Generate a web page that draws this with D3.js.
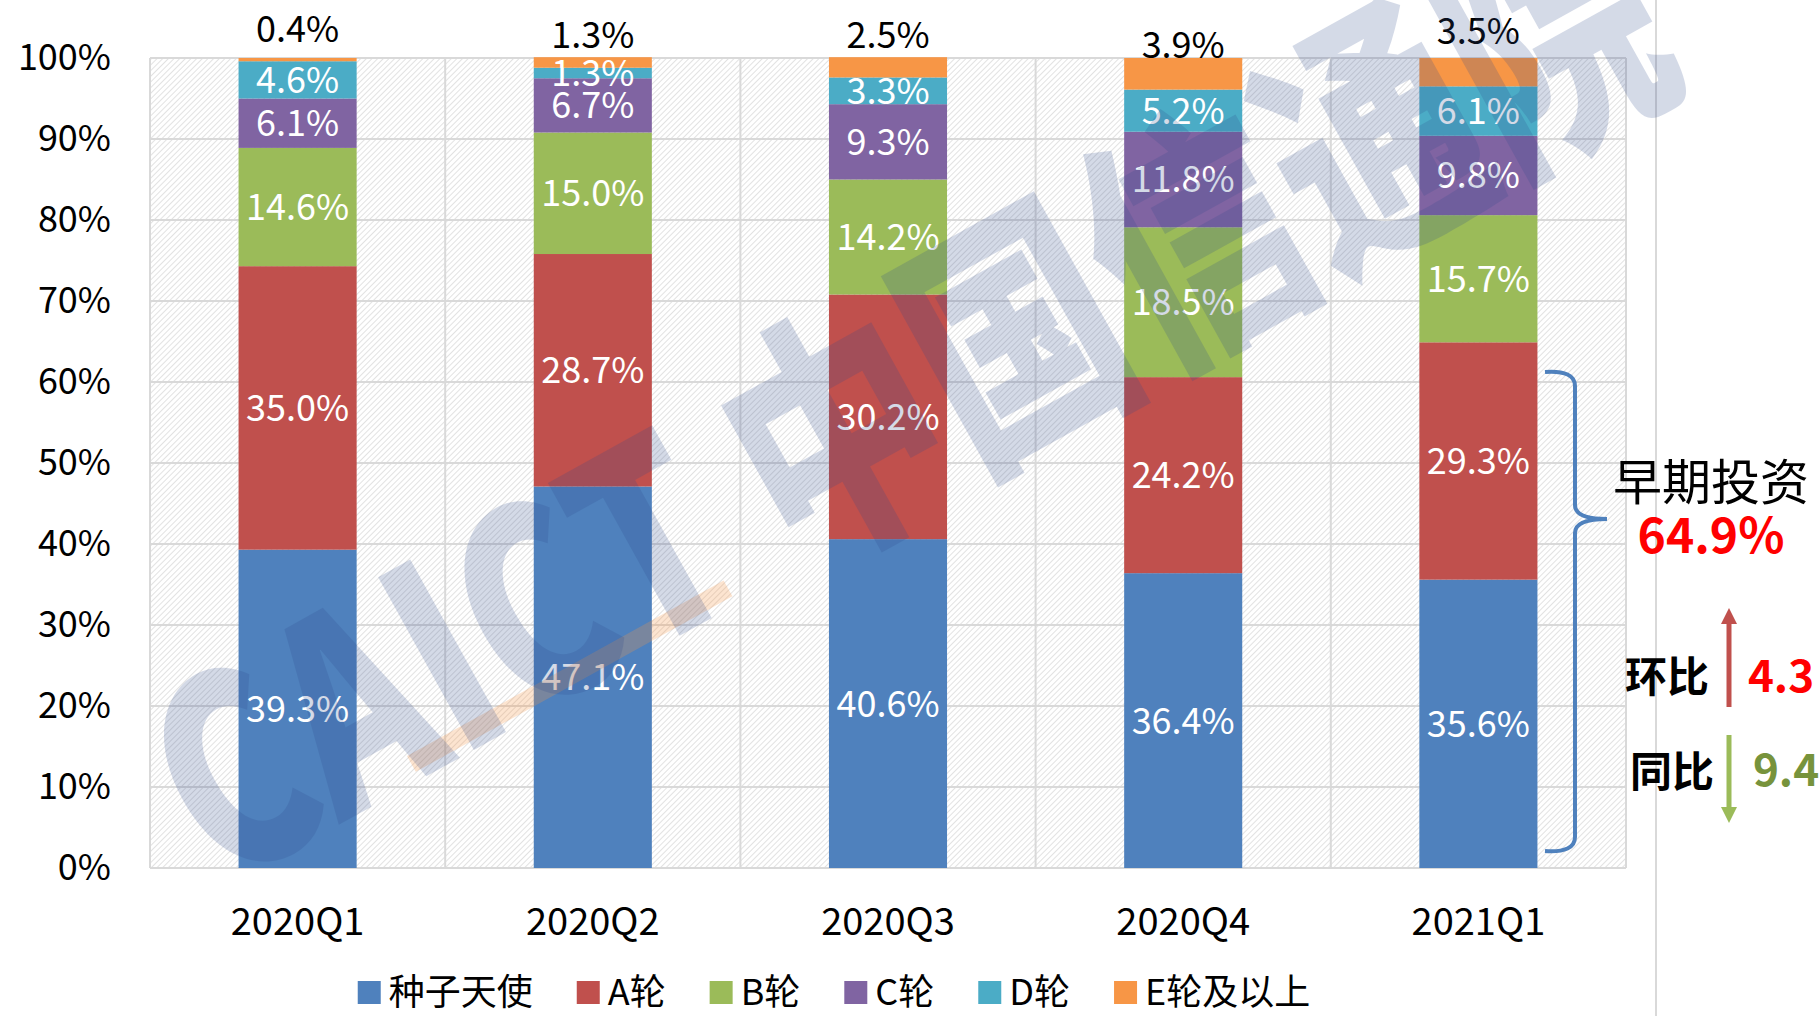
<!DOCTYPE html>
<html>
<head>
<meta charset="utf-8">
<script src="https://cdn.jsdelivr.net/npm/d3@7"></script>
<style>
  html, body { margin: 0; padding: 0; background: #fff; }
  svg { display: block; font-family: "Noto Sans CJK SC", "Noto Sans", sans-serif; }
</style>
</head>
<body>
<div id="chart"></div>
<script>
// Chart data
const quarters = ["2020Q1", "2020Q2", "2020Q3", "2020Q4", "2021Q1"];
const seriesNames = ["种子天使", "A轮", "B轮", "C轮", "D轮", "E轮及以上"];
const seed = [39.3, 47.1, 40.6, 36.4, 35.6];
const roundA = [35.0, 28.7, 30.2, 24.2, 29.3];
const roundB = [14.6, 15.0, 14.2, 18.5, 15.7];
const roundC = [6.1, 6.7, 9.3, 11.8, 9.8];
const roundD = [4.6, 1.3, 3.3, 5.2, 6.1];
const roundE = [0.4, 1.3, 2.5, 3.9, 3.5];
const yTicks = [0, 10, 20, 30, 40, 50, 60, 70, 80, 90, 100];

const earlyTotal = "64.9%";
const qoqChange = "4.3";
const yoyChange = "9.4";

const colors = ["#4f81bd", "#c0504d", "#9bbb59", "#8064a2", "#4bacc6", "#f79646"];

const W = 1820, H = 1016;
const plot = { left: 150, right: 1626, top: 58, bottom: 868 };

const svg = d3.select("#chart").append("svg")
  .attr("width", W).attr("height", H);

// hatch pattern for the plot background
const defs = svg.append("defs");
const pat = defs.append("pattern")
  .attr("id", "hatch")
  .attr("patternUnits", "userSpaceOnUse")
  .attr("width", 4).attr("height", 4)
  .attr("patternTransform", "rotate(45)");
pat.append("rect").attr("width", 4).attr("height", 4).attr("fill", "#fff");
pat.append("line")
  .attr("x1", 0).attr("y1", 0).attr("x2", 0).attr("y2", 4)
  .attr("stroke", "#cfcfcf").attr("stroke-width", 1.2);

// scales
const x = d3.scaleBand()
  .domain(quarters)
  .range([plot.left, plot.right])
  .paddingInner(0.6)
  .paddingOuter(0.3);

const y = d3.scaleLinear()
  .domain([0, 100])
  .range([plot.bottom, plot.top]);

// background
svg.append("rect")
  .attr("x", plot.left).attr("y", plot.top)
  .attr("width", plot.right - plot.left)
  .attr("height", plot.bottom - plot.top)
  .attr("fill", "url(#hatch)");

// horizontal gridlines
svg.append("g")
  .selectAll("line")
  .data(yTicks)
  .join("line")
  .attr("x1", plot.left).attr("x2", plot.right)
  .attr("y1", (d) => y(d)).attr("y2", (d) => y(d))
  .attr("stroke", "#d9d9d9").attr("stroke-width", 2);

// vertical gridlines at category boundaries
const step = x.step();
const bounds = d3.range(quarters.length + 1).map((i) => plot.left + i * step);
svg.append("g")
  .selectAll("line")
  .data(bounds)
  .join("line")
  .attr("x1", (d) => d).attr("x2", (d) => d)
  .attr("y1", plot.top).attr("y2", plot.bottom)
  .attr("stroke", "#d9d9d9").attr("stroke-width", 2);

// outer frame line on the right
svg.append("line")
  .attr("x1", 1656).attr("x2", 1656)
  .attr("y1", 0).attr("y2", H)
  .attr("stroke", "#d9d9d9").attr("stroke-width", 2);

// y axis
const yAxis = svg.append("g")
  .attr("transform", `translate(${plot.left},0)`)
  .call(d3.axisLeft(y).tickValues(yTicks).tickSize(0).tickPadding(39).tickFormat((d) => d + "%"));
yAxis.select(".domain").remove();
yAxis.selectAll("text")
  .style("font-size", "36px")
  .style("font-family", "'Noto Sans CJK SC', sans-serif")
  .attr("fill", "#000");

// x axis
const xAxis = svg.append("g")
  .attr("transform", `translate(0,${plot.bottom})`)
  .call(d3.axisBottom(x).tickSize(0).tickPadding(40));
xAxis.select(".domain").remove();
xAxis.selectAll("text")
  .style("font-size", "38px")
  .style("font-family", "'Noto Sans CJK SC', sans-serif")
  .attr("fill", "#000");

// stacked bars
const rows = quarters.map((q, i) => ({
  q,
  s0: seed[i], s1: roundA[i], s2: roundB[i], s3: roundC[i], s4: roundD[i], s5: roundE[i]
}));
const keys = ["s0", "s1", "s2", "s3", "s4", "s5"];
const stacked = d3.stack().keys(keys)(rows);

const layers = svg.append("g")
  .selectAll("g")
  .data(stacked)
  .join("g")
  .attr("fill", (d, i) => colors[i]);

layers.selectAll("rect")
  .data((d) => d)
  .join("rect")
  .attr("x", (d) => x(d.data.q))
  .attr("width", x.bandwidth())
  .attr("y", (d) => y(d[1]))
  .attr("height", (d) => y(d[0]) - y(d[1]));

// labels inside segments (top series goes above the bar)
const eLabelDy = [-16, -10, -10, 0, -14];
stacked.forEach((layer, li) => {
  svg.append("g")
    .selectAll("text")
    .data(layer)
    .join("text")
    .attr("x", (d) => x(d.data.q) + x.bandwidth() / 2)
    .attr("y", (d, i) => li === 5 ? y(100) + eLabelDy[i] : y((d[0] + d[1]) / 2))
    .attr("dy", li === 5 ? "0" : "0.36em")
    .attr("text-anchor", "middle")
    .attr("fill", li === 5 ? "#000" : "#fff")
    .style("font-size", "36px")
    .text((d) => d3.format(".1f")(d.data[layer.key]) + "%");
});

// legend
const legend = svg.append("g").attr("transform", `translate(0,992)`);
const items = legend.selectAll("g")
  .data(seriesNames)
  .join("g");
items.append("rect")
  .attr("width", 23).attr("height", 23)
  .attr("y", -11)
  .attr("fill", (d, i) => colors[i]);
items.append("text")
  .attr("x", 31)
  .attr("dy", "0.36em")
  .style("font-size", "36px")
  .attr("fill", "#000")
  .text((d) => d);
const gap = 44;
let lx = 0;
const offsets = [];
items.each(function () {
  offsets.push(lx);
  const w = 31 + d3.select(this).select("text").node().getComputedTextLength();
  lx += w + gap;
});
const totalW = lx - gap;
const startX = 834 - totalW / 2;
items.attr("transform", (d, i) => `translate(${startX + offsets[i]},0)`);

// brace marking early-stage investment
const bx0 = 1545, bx1 = 1575, bxt = 1607;
const by0 = 372, by1 = 851, byt = 519;
const brace = d3.path();
brace.moveTo(bx0, by0);
brace.quadraticCurveTo(bx1, by0 - 2, bx1, by0 + 14);
brace.lineTo(bx1, byt - 14);
brace.quadraticCurveTo(bx1, byt, bxt, byt);
brace.moveTo(bx1, byt + 14);
brace.quadraticCurveTo(bx1, byt, bxt, byt);
brace.moveTo(bx1, byt + 14);
brace.lineTo(bx1, by1 - 14);
brace.quadraticCurveTo(bx1, by1 + 2, bx0, by1);
svg.append("path")
  .attr("d", brace.toString())
  .attr("fill", "none")
  .attr("stroke", "#4f81bd")
  .attr("stroke-width", 4);

svg.append("text")
  .attr("x", 1711).attr("y", 500)
  .attr("text-anchor", "middle")
  .style("font-size", "49px")
  .attr("fill", "#000")
  .text("早期投资");
svg.append("text")
  .attr("x", 1711).attr("y", 553)
  .attr("text-anchor", "middle")
  .style("font-size", "48px")
  .style("font-weight", "bold")
  .attr("fill", "#ff0000")
  .text(earlyTotal);

// arrows
defs.append("marker")
  .attr("id", "arrRed")
  .attr("viewBox", "0 0 10 10")
  .attr("refX", 5).attr("refY", 5)
  .attr("markerWidth", 3.2).attr("markerHeight", 3.2)
  .attr("orient", "auto")
  .append("path").attr("d", "M0,0L10,5L0,10Z").attr("fill", "#c0504d");
defs.append("marker")
  .attr("id", "arrGreen")
  .attr("viewBox", "0 0 10 10")
  .attr("refX", 5).attr("refY", 5)
  .attr("markerWidth", 3.2).attr("markerHeight", 3.2)
  .attr("orient", "auto")
  .append("path").attr("d", "M0,0L10,5L0,10Z").attr("fill", "#9bbb59");

svg.append("line")
  .attr("x1", 1729).attr("x2", 1729)
  .attr("y1", 707).attr("y2", 616)
  .attr("stroke", "#c0504d").attr("stroke-width", 5)
  .attr("marker-end", "url(#arrRed)");
svg.append("line")
  .attr("x1", 1729).attr("x2", 1729)
  .attr("y1", 735).attr("y2", 815)
  .attr("stroke", "#9bbb59").attr("stroke-width", 5)
  .attr("marker-end", "url(#arrGreen)");

svg.append("text")
  .attr("x", 1667).attr("y", 692)
  .attr("text-anchor", "middle")
  .style("font-size", "42px").style("font-weight", "bold")
  .attr("fill", "#000").text("环比");
svg.append("text")
  .attr("x", 1781).attr("y", 692)
  .attr("text-anchor", "middle")
  .style("font-size", "44px").style("font-weight", "bold")
  .attr("fill", "#ff0000").text(qoqChange);
svg.append("text")
  .attr("x", 1672).attr("y", 787)
  .attr("text-anchor", "middle")
  .style("font-size", "42px").style("font-weight", "bold")
  .attr("fill", "#000").text("同比");
svg.append("text")
  .attr("x", 1786).attr("y", 786)
  .attr("text-anchor", "middle")
  .style("font-size", "44px").style("font-weight", "bold")
  .attr("fill", "#77933c").text(yoyChange);

// watermark
const wm = svg.append("g")
  .attr("transform", "translate(936,448) rotate(-29)")
  .style("pointer-events", "none");
wm.append("line")
  .attr("x1", -612).attr("x2", -250)
  .attr("y1", 22).attr("y2", 22)
  .attr("stroke", "#f79646").attr("stroke-width", 18)
  .attr("opacity", 0.25);
wm.append("text")
  .attr("x", 0).attr("y", 40)
  .attr("text-anchor", "middle")
  .attr("textLength", 1680)
  .attr("lengthAdjust", "spacingAndGlyphs")
  .style("font-size", "265px")
  .style("font-weight", "900")
  .attr("fill", "#2e4a8c")
  .attr("opacity", 0.2)
  .text("CAICT 中国信通院");
</script>
</body>
</html>
